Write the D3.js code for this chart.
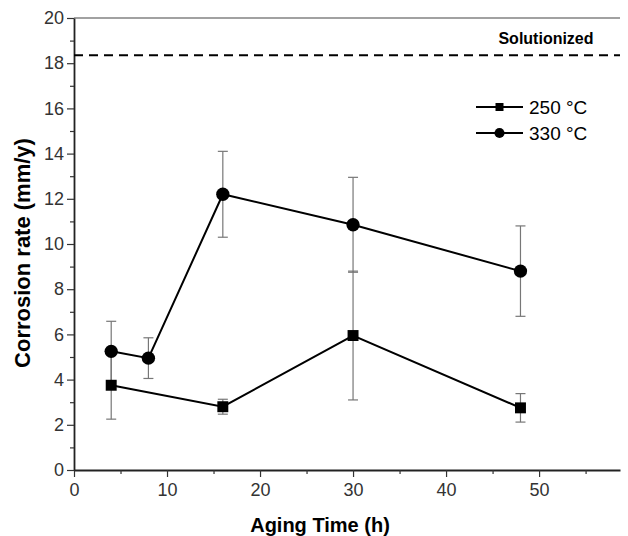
<!DOCTYPE html>
<html>
<head>
<meta charset="utf-8">
<script src="https://cdn.jsdelivr.net/npm/d3@7"></script>
<style>
  body { margin: 0; background: #fff; }
  text { font-family: "Liberation Sans", Arial, sans-serif; }
</style>
</head>
<body>
<script>
// data
var times250 = [4, 16, 30, 48];
var rate250 = [3.75, 2.8, 5.95, 2.75];
var err250 = [1.5, 0.33, 2.85, 0.63];

var times330 = [4, 8, 16, 30, 48];
var rate330 = [5.25, 4.95, 12.2, 10.85, 8.8];
var err330 = [1.33, 0.9, 1.9, 2.1, 2.0];

var solutionized = 18.35;

var xTicks = [0, 10, 20, 30, 40, 50];
var yTicks = [0, 2, 4, 6, 8, 10, 12, 14, 16, 18, 20];

var width = 628, height = 536;
var margin = { top: 18, right: 8, bottom: 66, left: 74 };

var svg = d3.select('body').append('svg')
  .attr('width', width)
  .attr('height', height);

var x = d3.scaleLinear().domain([0, 58.7]).range([margin.left, width - margin.right]);
var y = d3.scaleLinear().domain([0, 20]).range([height - margin.bottom, margin.top]);

// frame top line
svg.append('line')
  .attr('x1', x(0)).attr('x2', x.range()[1])
  .attr('y1', y(20)).attr('y2', y(20))
  .attr('stroke', '#444').attr('stroke-width', 1.2);

// x axis
svg.append('g')
  .attr('transform', 'translate(0,' + y(0) + ')')
  .call(d3.axisBottom(x).tickValues(xTicks).tickSize(7).tickSizeOuter(0).tickPadding(6).tickFormat(d3.format('d')));
svg.append('g')
  .attr('transform', 'translate(0,' + y(0) + ')')
  .call(d3.axisBottom(x).tickValues([5, 15, 25, 35, 45, 55]).tickSize(4).tickSizeOuter(0).tickFormat(''))
  .select('.domain').remove();

// y axis
svg.append('g')
  .attr('transform', 'translate(' + x(0) + ',0)')
  .call(d3.axisLeft(y).tickValues(yTicks).tickSize(7).tickSizeOuter(0).tickPadding(3).tickFormat(d3.format('d')));
svg.append('g')
  .attr('transform', 'translate(' + x(0) + ',0)')
  .call(d3.axisLeft(y).tickValues([1, 3, 5, 7, 9, 11, 13, 15, 17, 19]).tickSize(4).tickSizeOuter(0).tickFormat(''))
  .select('.domain').remove();

svg.selectAll('.domain').attr('stroke', '#222').attr('stroke-width', 1.8);
svg.selectAll('.tick line').attr('stroke', '#333').attr('stroke-width', 1.2);
svg.selectAll('.tick text').attr('font-size', 18).attr('fill', '#333');

// axis titles
svg.append('text')
  .attr('x', 320)
  .attr('y', 532)
  .attr('text-anchor', 'middle')
  .attr('font-size', 20).attr('font-weight', 'bold')
  .text('Aging Time (h)');

svg.append('text')
  .attr('transform', 'translate(30,253) rotate(-90)')
  .attr('text-anchor', 'middle')
  .attr('font-size', 22).attr('font-weight', 'bold')
  .text('Corrosion rate (mm/y)');

// solutionized reference line
svg.append('line')
  .attr('x1', x(0)).attr('x2', x.range()[1])
  .attr('y1', y(solutionized)).attr('y2', y(solutionized))
  .attr('stroke', '#000').attr('stroke-width', 2)
  .attr('stroke-dasharray', '9,6');
svg.append('text')
  .attr('x', 546).attr('y', 44)
  .attr('text-anchor', 'middle')
  .attr('font-size', 16).attr('font-weight', 'bold')
  .text('Solutionized');

var allSeries = [
  { times: times330, rates: rate330, errs: err330, shape: d3.symbolCircle, size: 140 },
  { times: times250, rates: rate250, errs: err250, shape: d3.symbolSquare, size: 120 }
];
allSeries.forEach(function (s) {
  s.pts = s.times.map(function (t, i) { return { t: t, v: s.rates[i], e: s.errs[i] }; });
});

// error bars first
allSeries.forEach(function (s) {
  var eb = svg.append('g').selectAll('g').data(s.pts).enter().append('g')
    .attr('stroke', '#777').attr('stroke-width', 1.2);
  eb.append('line')
    .attr('x1', function (d) { return x(d.t); }).attr('x2', function (d) { return x(d.t); })
    .attr('y1', function (d) { return y(d.v - d.e); }).attr('y2', function (d) { return y(d.v + d.e); });
  [-1, 1].forEach(function (k) {
    eb.append('line')
      .attr('x1', function (d) { return x(d.t) - 5; }).attr('x2', function (d) { return x(d.t) + 5; })
      .attr('y1', function (d) { return y(d.v + k * d.e); }).attr('y2', function (d) { return y(d.v + k * d.e); });
  });
});

// lines
allSeries.forEach(function (s) {
  svg.append('path')
    .datum(s.pts)
    .attr('fill', 'none').attr('stroke', '#000').attr('stroke-width', 2)
    .attr('d', d3.line().x(function (d) { return x(d.t); }).y(function (d) { return y(d.v); }));
});

// markers
allSeries.forEach(function (s) {
  svg.append('g').selectAll('path').data(s.pts).enter().append('path')
    .attr('transform', function (d) { return 'translate(' + x(d.t) + ',' + y(d.v) + ')'; })
    .attr('d', d3.symbol().type(s.shape).size(s.size))
    .attr('fill', '#000');
});

// legend
var legend = [['250 °C', d3.symbolSquare, 107, 64], ['330 °C', d3.symbolCircle, 133, 80]];
legend.forEach(function (l) {
  var lg = svg.append('g').attr('transform', 'translate(476,' + l[2] + ')');
  lg.append('line').attr('x1', 0).attr('x2', 47).attr('stroke', '#000').attr('stroke-width', 2);
  lg.append('path').attr('transform', 'translate(23.5,0)')
    .attr('d', d3.symbol().type(l[1]).size(l[3]));
  lg.append('text').attr('x', 53).attr('y', 7).attr('font-size', 19).text(l[0]);
});
</script>
</body>
</html>
